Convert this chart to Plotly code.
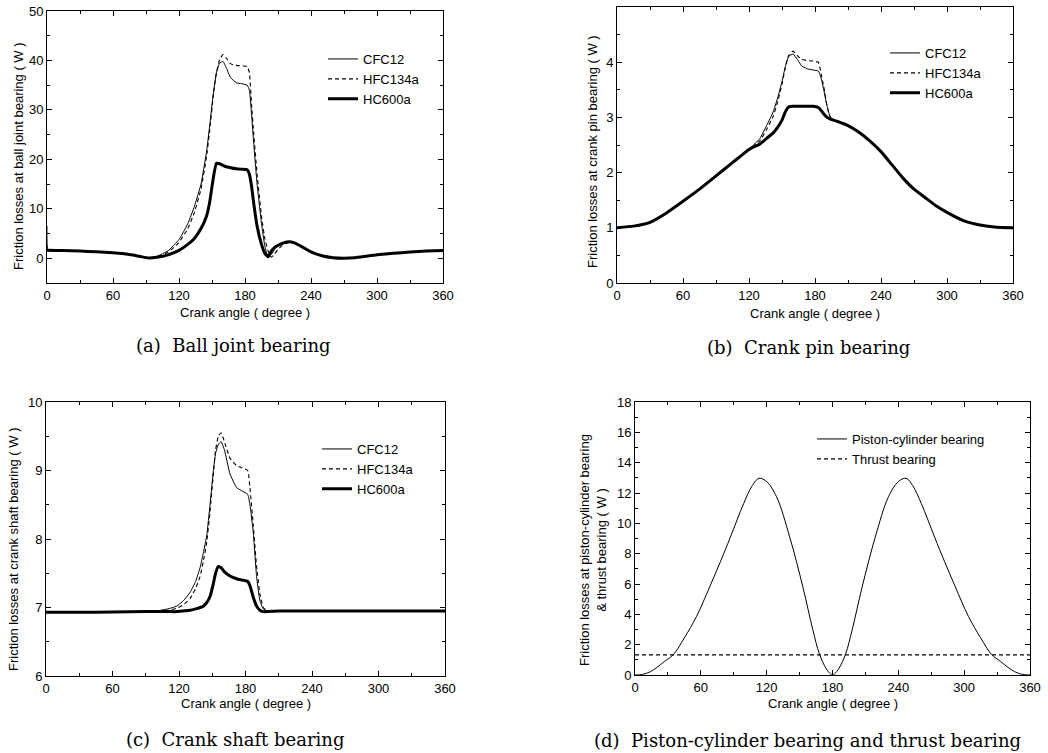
import plotly.graph_objects as go

W, H = 1048, 753

# ---------------- Panel (a) Ball joint bearing ----------------
ang_a = [0, 1, 15, 30, 45, 60, 75, 85, 92, 100, 110, 120, 128, 134, 140, 145, 148, 151, 154, 157, 160,
         163, 167, 172, 177, 182, 184, 186, 188, 191, 195, 198, 201, 204, 207, 210, 215, 220, 225, 232,
         240, 250, 260, 270, 280, 290, 300, 315, 330, 345, 360]
cfc_a = [6.5, 1.6, 1.55, 1.45, 1.3, 1.1, 0.75, 0.35, 0.05, 0.4, 1.5, 3.8, 7.0, 10.5, 15.0, 21.5, 27.0, 33.0,
         37.5, 39.5, 39.8, 38.5, 36.5, 35.5, 35.3, 35.0, 34.0, 29.0, 23.0, 15.0, 7.0, 2.5, 0.3, 0.8, 1.8,
         2.5, 3.1, 3.3, 3.0, 2.2, 1.2, 0.5, 0.1, 0.0, 0.1, 0.4, 0.7, 1.0, 1.25, 1.45, 1.55]
hfc_a = [1.6, 1.6, 1.55, 1.45, 1.3, 1.1, 0.75, 0.35, 0.05, 0.3, 1.2, 3.2, 6.0, 9.3, 14.0, 20.5, 26.0, 32.5,
         37.5, 40.2, 41.2, 40.5, 39.3, 39.0, 38.9, 38.8, 37.5, 31.0, 25.0, 17.0, 8.5, 4.0, 1.5, 0.2, 0.9,
         1.8, 2.8, 3.2, 3.0, 2.2, 1.2, 0.5, 0.1, 0.0, 0.1, 0.4, 0.7, 1.0, 1.25, 1.45, 1.55]
hc_a = [1.6, 1.6, 1.55, 1.45, 1.3, 1.1, 0.75, 0.35, 0.05, 0.2, 0.7, 1.6, 2.8, 4.0, 6.0, 8.5, 11.5, 16.0,
        19.2, 19.1, 18.8, 18.5, 18.3, 18.1, 18.0, 17.9, 17.0, 14.5, 11.0, 6.5, 2.8, 1.0, 0.3, 1.5, 2.2,
        2.6, 3.1, 3.35, 3.1, 2.3, 1.3, 0.5, 0.1, 0.0, 0.1, 0.4, 0.7, 1.0, 1.25, 1.45, 1.55]

# ---------------- Panel (b) Crank pin bearing ----------------
ang_b = [0, 15, 30, 45, 60, 75, 90, 105, 120, 130, 136, 142, 146, 150, 153, 156, 160, 164, 168, 173, 178,
         183, 185, 188, 191, 194, 200, 210, 220, 230, 240, 250, 260, 270, 280, 290, 300, 315, 330, 345, 360]
cfc_b = [1.0, 1.03, 1.1, 1.27, 1.48, 1.7, 1.94, 2.18, 2.42, 2.62, 2.85, 3.1, 3.35, 3.65, 3.92, 4.1, 4.15,
         4.05, 3.93, 3.88, 3.86, 3.84, 3.75, 3.5, 3.2, 3.0, 2.93, 2.85, 2.73, 2.57, 2.38, 2.14, 1.9, 1.7,
         1.55, 1.4, 1.28, 1.13, 1.05, 1.01, 1.0]
hfc_b = [1.0, 1.03, 1.1, 1.27, 1.48, 1.7, 1.94, 2.18, 2.42, 2.58, 2.78, 3.02, 3.28, 3.6, 3.9, 4.12, 4.2,
         4.12, 4.05, 4.03, 4.02, 4.0, 3.85, 3.55, 3.2, 3.0, 2.93, 2.85, 2.73, 2.57, 2.38, 2.14, 1.9, 1.7,
         1.55, 1.4, 1.28, 1.13, 1.05, 1.01, 1.0]
hc_b = [1.0, 1.03, 1.1, 1.27, 1.48, 1.7, 1.94, 2.18, 2.42, 2.52, 2.62, 2.72, 2.82, 2.95, 3.1, 3.19, 3.2,
        3.2, 3.2, 3.2, 3.2, 3.18, 3.14, 3.06, 3.0, 2.97, 2.93, 2.85, 2.73, 2.57, 2.38, 2.14, 1.9, 1.7,
        1.55, 1.4, 1.28, 1.13, 1.05, 1.01, 1.0]

# ---------------- Panel (c) Crank shaft bearing ----------------
ang_c = [0, 30, 60, 90, 100, 110, 118, 124, 130, 135, 139, 142, 145, 148, 151, 153, 155.5, 158, 161, 166,
         172, 177, 182, 184, 187, 190, 193, 196, 200, 210, 240, 300, 360]
cfc_c = [6.93, 6.93, 6.935, 6.94, 6.95, 6.98, 7.02, 7.1, 7.22, 7.38, 7.58, 7.8, 8.05, 8.5, 9.0, 9.25, 9.38,
         9.42, 9.3, 8.95, 8.75, 8.7, 8.65, 8.5, 8.1, 7.45, 7.1, 6.98, 6.95, 6.95, 6.95, 6.95, 6.95]
hfc_c = [6.93, 6.93, 6.935, 6.94, 6.95, 6.96, 6.99, 7.04, 7.13, 7.28, 7.45, 7.68, 7.95, 8.4, 8.95, 9.3, 9.5,
         9.55, 9.42, 9.18, 9.07, 9.04, 9.0, 8.75, 8.2, 7.6, 7.2, 7.0, 6.95, 6.95, 6.95, 6.95, 6.95]
hc_c = [6.93, 6.93, 6.935, 6.94, 6.94, 6.94, 6.94, 6.95, 6.96, 6.98, 7.0, 7.02, 7.07, 7.16, 7.35, 7.5, 7.6,
        7.58, 7.52, 7.46, 7.42, 7.4, 7.38, 7.32, 7.15, 7.02, 6.96, 6.94, 6.94, 6.95, 6.95, 6.95, 6.95]

# ---------------- Panel (d) Piston-cylinder & thrust ----------------
ang_d = [0, 7, 14, 20, 27, 35, 45, 56, 68, 78, 87, 99, 107, 113, 120, 129, 141, 153, 162, 168, 174, 178,
         180, 182, 186, 192, 198, 207, 219, 231, 240, 247, 253, 261, 273, 282, 292, 304, 315, 325, 333,
         340, 346, 353, 360]
piston_d = [0.0, 0.04, 0.22, 0.5, 0.9, 1.35, 2.45, 3.85, 5.8, 7.5, 9.1, 11.3, 12.5, 12.97, 12.75, 11.75,
            9.1, 5.8, 3.0, 1.4, 0.45, 0.08, 0.0, 0.08, 0.45, 1.4, 3.0, 5.8, 9.1, 11.75, 12.75, 12.97, 12.5,
            11.3, 9.1, 7.5, 5.8, 3.85, 2.45, 1.35, 0.9, 0.5, 0.22, 0.04, 0.0]
ang_thrust = [0, 360]
thrust_d = [1.33, 1.33]

series_names = ["CFC12", "HFC134a", "HC600a"]
x_ticks = [0, 60, 120, 180, 240, 300, 360]

FONT = "Liberation Sans, Arial, sans-serif"
SERIF = "DejaVu Serif, serif"

fig = go.Figure()

styles = [dict(color="black", width=1.0),
          dict(color="black", width=1.1, dash="4px,3px"),
          dict(color="black", width=3.0)]


def add_three(ang, vals, xa, ya, leg):
    for name, v, st in zip(series_names, vals, styles):
        fig.add_trace(go.Scatter(x=ang, y=v, mode="lines", name=name,
                                 line=dict(shape="spline", smoothing=0.4, **st),
                                 xaxis=xa, yaxis=ya, legend=leg))


add_three(ang_a, [cfc_a, hfc_a, hc_a], "x", "y", "legend")
add_three(ang_b, [cfc_b, hfc_b, hc_b], "x2", "y2", "legend2")
add_three(ang_c, [cfc_c, hfc_c, hc_c], "x3", "y3", "legend3")
fig.add_trace(go.Scatter(x=ang_d, y=piston_d, mode="lines", name="Piston-cylinder bearing",
                         line=dict(color="black", width=1.0, shape="spline", smoothing=1.0),
                         xaxis="x4", yaxis="y4", legend="legend4"))
fig.add_trace(go.Scatter(x=ang_thrust, y=thrust_d, mode="lines", name="Thrust bearing",
                         line=dict(color="black", width=1.1, dash="4px,3px"),
                         xaxis="x4", yaxis="y4", legend="legend4"))


def px(x):
    return x / W


def py(y):
    return 1 - y / H


def xaxis(dom, anchor):
    return dict(domain=dom, anchor=anchor, range=[0, 360], tickvals=x_ticks, ticks="inside", ticklen=5,
                tickwidth=1, tickcolor="black", mirror="allticks", showline=True, linecolor="black",
                linewidth=1, showgrid=False, zeroline=False, automargin=False,
                minor=dict(dtick=30, ticks="inside", ticklen=3, tickcolor="black", showgrid=False),
                tickfont=dict(family=FONT, size=13, color="black"))


def yaxis(dom, anchor, rng, dtick, minor):
    return dict(domain=dom, anchor=anchor, range=rng, dtick=dtick, tick0=0, ticks="inside", ticklen=5,
                tickwidth=1, tickcolor="black", mirror="allticks", showline=True, linecolor="black",
                linewidth=1, showgrid=False, zeroline=False, automargin=False,
                minor=dict(dtick=minor, ticks="inside", ticklen=3, tickcolor="black", showgrid=False),
                tickfont=dict(family=FONT, size=13, color="black"))


def legend(xl, ytop, size=13):
    return dict(x=px(xl), y=py(ytop), xanchor="left", yanchor="top", bgcolor="rgba(0,0,0,0)",
                font=dict(family=FONT, size=size, color="black"), tracegroupgap=0, itemwidth=30)


fig.update_layout(
    width=W, height=H, margin=dict(l=0, r=0, t=0, b=0, autoexpand=False),
    paper_bgcolor="white", plot_bgcolor="white",
    xaxis=xaxis([px(47), px(443)], "y"),
    yaxis=yaxis([py(283), py(11)], "x", [-5, 50], 10, 5),
    xaxis2=xaxis([px(617), px(1013)], "y2"),
    yaxis2=yaxis([py(283), py(7)], "x2", [0, 5], 1, 0.5),
    xaxis3=xaxis([px(46), px(445)], "y3"),
    yaxis3=yaxis([py(676), py(402)], "x3", [6, 10], 1, 0.5),
    xaxis4=xaxis([px(635), px(1030)], "y4"),
    yaxis4=yaxis([py(675), py(402)], "x4", [0, 18], 2, 1),
    legend=legend(323, 44),
    legend2=legend(885, 38),
    legend3=legend(317, 434),
    legend4=legend(812, 424),
    showlegend=True,
)

# axis titles (placed as paper annotations)
x_titles = [(245, 312), (815, 313), (246, 703), (833, 703)]
for cx, cy in x_titles:
    fig.add_annotation(text="Crank angle ( degree )", x=px(cx), y=py(cy), xref="paper", yref="paper",
                       showarrow=False, xanchor="center", yanchor="middle",
                       font=dict(family=FONT, size=13, color="black"))

y_titles = [("Friction losses at ball joint bearing ( W )", 18, 156),
            ("Friction losses at crank pin bearing ( W )", 592, 152),
            ("Friction losses at crank shaft bearing ( W )", 13, 550),
            ("Friction losses at piston-cylinder bearing<br>& thrust bearing ( W )", 593, 550)]
for text, cx, cy in y_titles:
    fig.add_annotation(text=text, x=px(cx), y=py(cy), xref="paper", yref="paper", showarrow=False,
                       xanchor="center", yanchor="middle", textangle=-90,
                       font=dict(family=FONT, size=13, color="black"))

captions = [("(a)  Ball joint bearing", 233, 345),
            ("(b)  Crank pin bearing", 808, 347),
            ("(c)  Crank shaft bearing", 235, 739),
            ("(d)  Piston-cylinder bearing and thrust bearing", 807, 740)]
for text, cx, cy in captions:
    fig.add_annotation(text=text, x=px(cx), y=py(cy), xref="paper", yref="paper", showarrow=False,
                       xanchor="center", yanchor="middle",
                       font=dict(family=SERIF, size=18, color="black"))

fig.write_html("out.html", config={"displayModeBar": False},
               post_script="document.body.style.margin='0';document.body.style.overflow='hidden';")
